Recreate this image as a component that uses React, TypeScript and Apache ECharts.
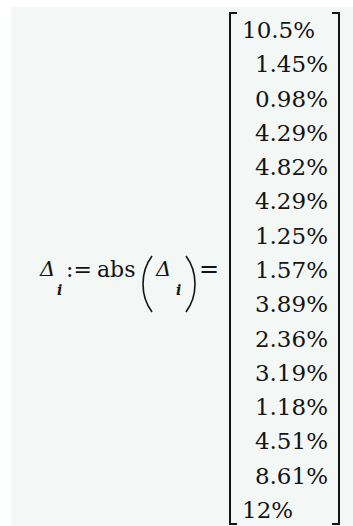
import React, { useEffect, useRef } from "react";
import * as echarts from "echarts";

// values of Δ_i (in %), one per matrix row
const deltaPercent: number[] = [10.5, 1.45, 0.98, 4.29, 4.82, 4.29, 1.25, 1.57, 3.89, 2.36, 3.19, 1.18, 4.51, 8.61, 12];
const rowIndex: string[] = deltaPercent.map((_, i) => String(i));
const rowLabels: string[] = deltaPercent.map((v) => String(v) + "%");

const FONT = "DejaVu Serif";
const INK = "#141414";

function txt(text: string, x: number, y: number, size: number, style: string = "normal", weight: string = "normal") {
  return {
    type: "text",
    x,
    y,
    style: { text, fontFamily: FONT, fontSize: size, fontStyle: style, fontWeight: weight, fill: INK, align: "left", verticalAlign: "middle" },
  };
}

export default function App() {
  const ref = useRef<HTMLDivElement>(null);
  useEffect(() => {
    if (!ref.current) return;
    const chart = echarts.init(ref.current, undefined, { renderer: "svg" });
    const midY = 269;
    const option: echarts.EChartsCoreOption = {
      animation: false,
      backgroundColor: "#ffffff",
      grid: { left: 242, right: 25, top: 30, bottom: 16 },
      xAxis: { type: "value", min: 0, max: 1, show: false },
      yAxis: { type: "category", data: rowIndex, inverse: true, boundaryGap: false, show: false },
      series: [
        {
          type: "scatter",
          symbolSize: 0,
          z: 5,
          itemStyle: { opacity: 1 },
          emphasis: { disabled: true },
          data: deltaPercent.map((v, i) => ({
            value: [v >= 10 ? 0 : 1, rowIndex[i]],
            label: {
              show: true,
              formatter: rowLabels[i],
              position: [0, 0],
              align: v >= 10 ? "left" : "right",
              verticalAlign: "middle",
              fontFamily: FONT,
              fontSize: 23,
              color: INK,
            },
          })),
        },
      ],
      graphic: [
        { type: "rect", z: -10, shape: { x: 11, y: 7, width: 342, height: 519 }, style: { fill: "#f3f7f5" } },
        // matrix brackets
        { type: "polyline", shape: { points: [[237, 13], [230, 13], [230, 524], [237, 524]] }, style: { stroke: INK, lineWidth: 2, fill: null } },
        { type: "polyline", shape: { points: [[332, 13], [339, 13], [339, 524], [332, 524]] }, style: { stroke: INK, lineWidth: 2, fill: null } },
        // left-hand expression
        txt("Δ", 40, midY, 21, "italic"),
        txt("i", 57, 290, 14, "italic", "bold"),
        txt(":=", 66, midY, 22),
        txt("abs", 97, midY, 22),
        { type: "bezierCurve", shape: { x1: 152, y1: 256, cpx1: 140, cpy1: 272, cpx2: 140, cpy2: 296, x2: 152, y2: 312 }, style: { stroke: INK, lineWidth: 1.6, fill: null } },
        txt("Δ", 156, midY, 21, "italic"),
        txt("i", 176, 290, 14, "italic", "bold"),
        { type: "bezierCurve", shape: { x1: 186, y1: 256, cpx1: 198, cpy1: 272, cpx2: 198, cpy2: 296, x2: 186, y2: 312 }, style: { stroke: INK, lineWidth: 1.6, fill: null } },
        txt("=", 199, midY, 24),
      ],
    };
    chart.setOption(option);
    return () => chart.dispose();
  }, []);
  return <div ref={ref} style={{ position: "absolute", left: 0, top: 0, width: 353, height: 526 }} />;
}
